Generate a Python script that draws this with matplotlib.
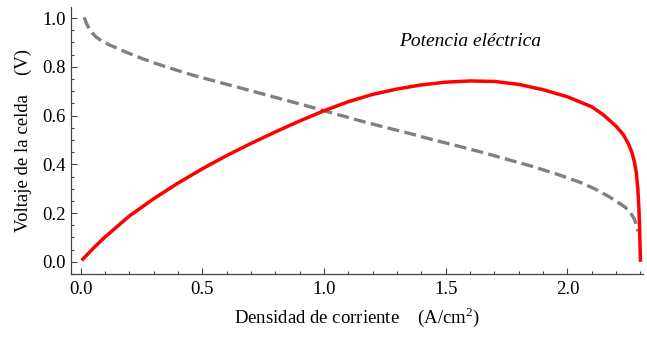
import matplotlib
matplotlib.use("Agg")
import matplotlib.pyplot as plt
from matplotlib.ticker import MultipleLocator

plt.rcParams['font.family'] = ['Liberation Serif', 'DejaVu Serif']
plt.rcParams['mathtext.fontset'] = 'custom'
plt.rcParams['mathtext.rm'] = 'Liberation Serif'

# cell voltage (gray dashed)
i_volt = [0.014, 0.025, 0.04, 0.06, 0.085, 0.12, 0.18, 0.249, 0.317, 0.385,
          0.46, 0.556, 0.65, 0.75, 0.85, 0.95, 1.05, 1.15, 1.25, 1.35,
          1.45, 1.55, 1.65, 1.75, 1.85, 1.95, 2.05, 2.113, 2.18, 2.236,
          2.26, 2.275, 2.284, 2.289]
volt = [1.003, 0.975, 0.948, 0.925, 0.907, 0.889, 0.863, 0.835, 0.811, 0.789,
        0.766, 0.740, 0.715, 0.688, 0.661, 0.634, 0.606, 0.578, 0.552, 0.527,
        0.500, 0.475, 0.449, 0.421, 0.393, 0.362, 0.327, 0.299, 0.262, 0.225,
        0.200, 0.175, 0.150, 0.125]

# electric power (red)
i_pow = [0.004, 0.05, 0.1, 0.2, 0.3, 0.4, 0.5, 0.6, 0.7, 0.8,
         0.9, 1.0, 1.1, 1.2, 1.3, 1.4, 1.5, 1.6, 1.7, 1.8,
         1.9, 2.0, 2.1, 2.15, 2.2, 2.23, 2.25, 2.265, 2.275, 2.283,
         2.289, 2.293, 2.296, 2.298, 2.3]
power = [0.006, 0.054, 0.102, 0.188, 0.259, 0.323, 0.382, 0.436, 0.486, 0.533,
         0.578, 0.620, 0.657, 0.687, 0.709, 0.726, 0.737, 0.742, 0.740, 0.728,
         0.706, 0.677, 0.636, 0.601, 0.556, 0.521, 0.485, 0.448, 0.410, 0.365,
         0.30, 0.23, 0.15, 0.07, 0.0]

fig = plt.figure(figsize=(6.47, 3.38), dpi=100)
ax = fig.add_axes([0.1097, 0.1893, 0.884, 0.7897])

ax.plot(i_volt, volt, color='#808080', lw=2.4, dashes=(3.6, 1.6),
        dash_capstyle='butt')
ax.plot(i_pow, power, color='#ff0000', lw=2.5, solid_capstyle='butt',
        solid_joinstyle='round')

ax.text(1.598, 0.905, 'Potencia eléctrica', style='italic', fontsize=14,
        ha='center', va='center')

ax.set_xlim(-0.04, 2.31)
ax.set_ylim(-0.05, 1.045)
ax.xaxis.set_major_locator(MultipleLocator(0.5))
ax.xaxis.set_minor_locator(MultipleLocator(0.1))
ax.yaxis.set_major_locator(MultipleLocator(0.2))
ax.yaxis.set_minor_locator(MultipleLocator(0.05))
ax.xaxis.set_major_formatter(lambda v, p: f'{v:.1f}')
ax.yaxis.set_major_formatter(lambda v, p: f'{v:.1f}')

for s in ('top', 'right'):
    ax.spines[s].set_visible(False)
for s in ('left', 'bottom'):
    ax.spines[s].set_color('#444444')
    ax.spines[s].set_linewidth(0.9)

ax.tick_params(which='both', direction='in', color='#444444', width=0.8,
               labelsize=13.5)
ax.tick_params(which='major', length=4.5)
ax.tick_params(which='minor', length=2.5)
ax.tick_params(axis='x', pad=5)
ax.tick_params(axis='y', pad=4)

ax.set_xlabel('Densidad de corriente    (A/cm$^2$)', fontsize=13.5, labelpad=5)
ax.set_ylabel('Voltaje de la celda    (V)', fontsize=13.5, labelpad=7)

fig.savefig('out.png', dpi=100)
